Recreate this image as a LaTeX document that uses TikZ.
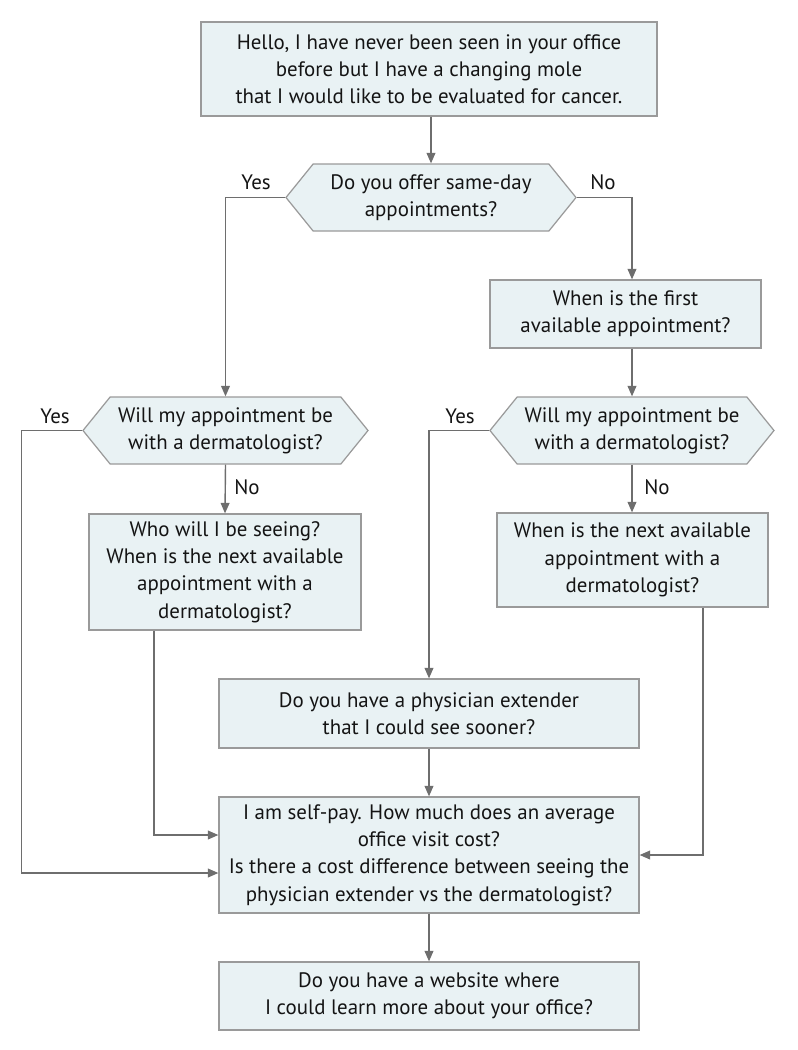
\documentclass[tikz,border=0pt]{standalone}
\usepackage{fontspec}
\setmainfont{PT Sans}
\usepackage{xcolor}
\usetikzlibrary{arrows.meta,positioning,calc,shapes.symbols}
\definecolor{boxfill}{HTML}{E9F2F4}
\definecolor{boxline}{HTML}{9A9A9A}
\definecolor{wire}{HTML}{6E6E6E}
\definecolor{ink}{HTML}{141414}

\begin{document}
\begin{tikzpicture}[font=\fontsize{11.9}{15.5}\selectfont, text=ink, >={Triangle[length=6pt,width=5pt]}]
    \tikzset{
      qbox/.style={draw=boxline, fill=boxfill, line width=0.7pt, align=center, inner sep=2pt},
      ask/.style={qbox, signal, signal to=west and east, signal pointer angle=102, minimum height=1.34cm},
      ans/.style={font=\fontsize{11.9}{13}\selectfont},
      wire/.style={draw=wire, line width=0.8pt},
    }
    \useasboundingbox (0,0) rectangle (15.96,-21);

    \node[qbox, minimum width=9.12cm, minimum height=1.88cm] (hello) at (8.58,-1.38)
      {Hello, I have never been seen in your office\\before but I have a changing mole\\that I would like to be evaluated for cancer.};
    \node[ask, minimum width=5.8cm] (sameday) at (8.62,-3.95) {Do you offer same-day\\appointments?};
    \node[qbox, minimum width=5.42cm, minimum height=1.36cm] (first) at (12.51,-6.28) {When is the first\\available appointment?};
    \node[ask, minimum width=5.7cm] (derma) at (4.51,-8.61) {Will my appointment be\\with a dermatologist?};
    \node[ask, minimum width=5.68cm] (dermb) at (12.64,-8.61) {Will my appointment be\\with a dermatologist?};
    \node[qbox, minimum width=5.44cm, minimum height=2.32cm] (who) at (4.5,-11.44)
      {Who will I be seeing?\\When is the next available\\appointment with a\\dermatologist?};
    \node[qbox, minimum width=5.42cm, minimum height=1.88cm] (next) at (12.65,-11.2)
      {When is the next available\\appointment with a\\dermatologist?};
    \node[qbox, minimum width=8.4cm, minimum height=1.38cm] (ext) at (8.58,-14.27)
      {Do you have a physician extender\\that I could see sooner?};
    \node[qbox, minimum width=8.4cm, minimum height=2.32cm] (pay) at (8.58,-17.1)
      {I am self-pay. How much does an average\\office visit cost?\\Is there a cost difference between seeing the\\physician extender vs the dermatologist?};
    \node[qbox, minimum width=8.4cm, minimum height=1.36cm] (web) at (8.58,-19.92)
      {Do you have a website where\\I could learn more about your office?};

    \node[ans] (yesa) at (5.12,-3.64) {Yes};
    \node[ans] (noa) at (12.06,-3.64) {No};
    \node[ans] (yesb) at (1.1,-8.32) {Yes};
    \node[ans] (nob) at (4.94,-9.74) {No};
    \node[ans] (yesc) at (9.2,-8.32) {Yes};
    \node[ans] (noc) at (13.14,-9.74) {No};

    \draw[wire, ->] (hello.south -| sameday.north) -- (sameday.north);
    \draw[wire, ->] (sameday.west) -| (derma.north);
    \draw[wire, ->] (sameday.east) -| (dermb.north |- first.north);
    \draw[wire, ->] (first.south -| dermb.north) -- (dermb.north);
    \draw[wire, ->] (derma.south) -- (who.north);
    \draw[wire, ->] (dermb.south) -- (dermb.south |- next.north);
    \draw[wire, ->] (derma.west) -- ++(-1.22,0) |- ($(pay.west)+(0,-0.36)$);
    \draw[wire, ->] ($(who.south)+(-1.42,0)$) |- ($(pay.west)+(0,0.4)$);
    \draw[wire, ->] (dermb.west) -| (ext.north);
    \draw[wire, ->] ($(next.south)+(1.41,0)$) |- (pay.east);
    \draw[wire, ->] (ext.south) -- (pay.north);
    \draw[wire, ->] (pay.south) -- (web.north);
  \end{tikzpicture}
\end{document}
